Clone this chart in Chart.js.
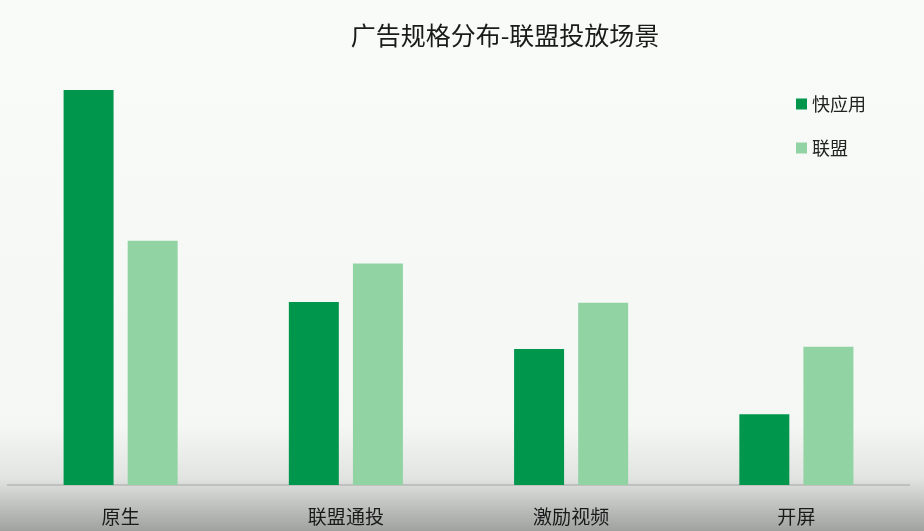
<!DOCTYPE html>
<html><head><meta charset="utf-8">
<script src="https://cdn.jsdelivr.net/npm/chart.js@4"></script>
<style>html,body{margin:0;padding:0;background:#fff}#wrap{width:924px;height:531px}</style>
</head><body><div id="wrap"><canvas id="c"></canvas></div>
<script>
const titleText = '广告规格分布-联盟投放场景';
const categories = ['原生', '联盟通投', '激励视频', '开屏'];
const seriesNames = ['快应用', '联盟'];
const kuaiyingyong = [50.3, 23.3, 17.3, 9.0];
const lianmeng = [31.1, 28.2, 23.2, 17.6];
const seriesColors = ['#00964c', '#92d3a4'];
const FONT = '"Noto Sans CJK SC", "Noto Sans", sans-serif';

const bgPlugin = {
  id: 'bg',
  beforeDraw(chart) {
    const ctx = chart.ctx, w = chart.width, h = chart.height;
    const g = ctx.createLinearGradient(0, 0, 0, h);
    g.addColorStop(0, '#f8fbf8');
    g.addColorStop(0.8, '#f4f7f4');
    g.addColorStop(0.9, '#e2e4e2');
    g.addColorStop(1, '#a0a2a0');
    ctx.save(); ctx.fillStyle = g; ctx.fillRect(0, 0, w, h); ctx.restore();
  },
  afterDraw(chart) {
    const ctx = chart.ctx;
    ctx.save();
    ctx.fillStyle = '#1a1a1a';
    ctx.font = '25px ' + FONT;
    ctx.textAlign = 'center'; ctx.textBaseline = 'middle';
    ctx.fillText(titleText, 505, 35);
    ctx.font = '18px ' + FONT;
    ctx.textAlign = 'left';
    chart.data.datasets.forEach((ds, i) => {
      const y = 104 + i * 44;
      ctx.fillStyle = ds.backgroundColor;
      ctx.fillRect(796, y - 5.5, 11, 11);
      ctx.fillStyle = '#222';
      ctx.fillText(ds.label, 812, y);
    });
    ctx.restore();
  }
};

new Chart(document.getElementById('c'), {
  type: 'bar',
  data: {
    labels: categories,
    datasets: [
      { label: seriesNames[0], data: kuaiyingyong, backgroundColor: seriesColors[0] },
      { label: seriesNames[1], data: lianmeng, backgroundColor: seriesColors[1] }
    ]
  },
  options: {
    responsive: true, maintainAspectRatio: false, animation: false,
    devicePixelRatio: 1,
    layout: { padding: { top: 53, left: 8, right: 15, bottom: 0 } },
    datasets: { bar: { categoryPercentage: 0.569, barPercentage: 0.78 } },
    plugins: { legend: { display: false }, title: { display: false }, tooltip: { enabled: false } },
    scales: {
      y: { display: false, min: 0, max: 55 },
      x: {
        grid: { display: false },
        border: { display: true, color: '#c0c0c0', width: 2 },
        ticks: { color: '#1a1a1a', font: { size: 19, family: FONT }, padding: 12 },
        afterFit(scale) { scale.height = 46; }
      }
    }
  },
  plugins: [bgPlugin]
});
</script></body></html>
